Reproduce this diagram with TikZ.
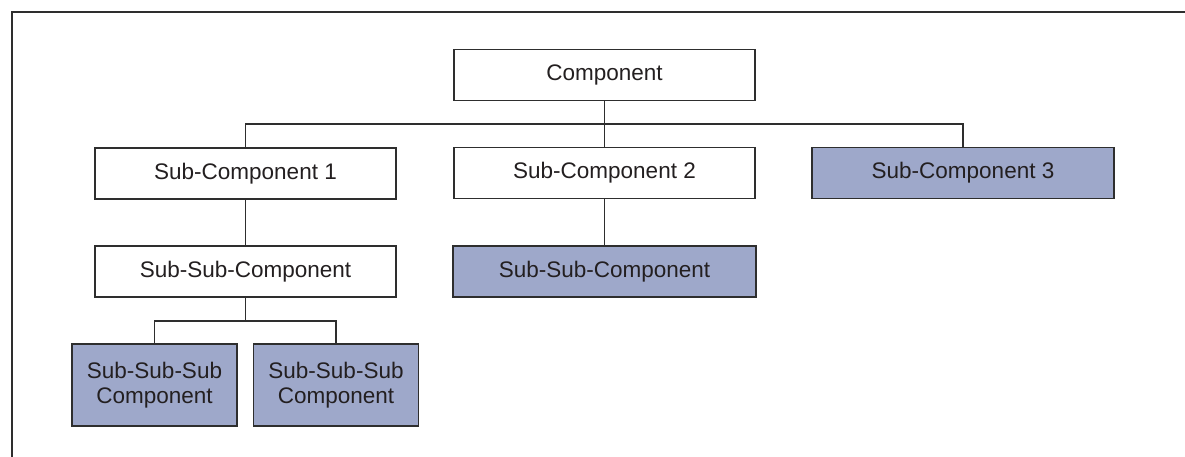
\documentclass[tikz,border=0pt]{standalone}
\usepackage{fontspec}
\setmainfont{Liberation Sans}
\definecolor{inkline}{HTML}{2E2E2E}
\definecolor{inktext}{HTML}{231F20}
\definecolor{shade}{HTML}{9EA8CA}
\begin{document}
\begin{tikzpicture}[x=1pt,y=-1pt,
  box/.style={draw=inkline,line width=1.5pt,fill=white,text=inktext,
    minimum width=301pt,minimum height=51pt,inner sep=0pt,
    font=\fontsize{22.5}{24.5}\selectfont,align=center},
  filled/.style={box,fill=shade},
  small/.style={filled,minimum width=165pt,minimum height=82pt},
  link/.style={draw=inkline,line width=1.4pt}]
\useasboundingbox (0,0) rectangle (1185,457);
% frame edges along the top and left
\draw[inkline,line width=1.6pt] (12,458) -- (12,12) -- (1186,12);

% boxes
\node[box] (comp) at (604.5,75) {Component};
\node[box] (sc1) at (245.5,173.5) {Sub-Component 1};
\node[box] (sc2) at (604.5,173) {Sub-Component 2};
\node[filled,minimum width=302pt] (sc3) at (963,173) {Sub-Component 3};
\node[box] (ssc1) at (245.5,271.5) {Sub-Sub-Component};
\node[filled,minimum width=303pt] (ssc2) at (604.5,271.5) {Sub-Sub-Component};
\node[small] (sss1) at (154.5,385) {Sub-Sub-Sub\\Component};
\node[small] (sss2) at (336,385) {Sub-Sub-Sub\\Component};

% connectors
\coordinate (busA) at (604.5,124);
\coordinate (busB) at (245.5,321);
\draw[link] (comp.south) -- (sc2.north);
\draw[link] (sc1.north) |- (busA) -| (sc3.north);
\draw[link] (sc1.south) -- (ssc1.north);
\draw[link] (sc2.south) -- (ssc2.north);
\draw[link] (ssc1.south) -- (busB);
\draw[link] (sss1.north) |- (busB) -| (sss2.north);
\end{tikzpicture}
\end{document}
